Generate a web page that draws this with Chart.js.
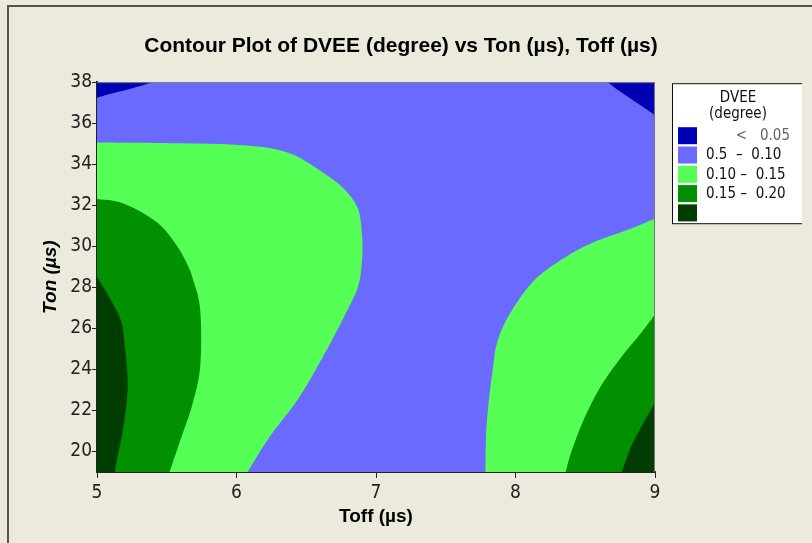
<!DOCTYPE html>
<html lang="en">
<head>
    <meta charset="UTF-8">
    <title>Contour Plot of DVEE</title>
    <script src="https://cdn.jsdelivr.net/npm/chart.js"></script>
    <style>
        html, body { margin: 0; padding: 0; background: #ece9dd; overflow: hidden; }
        #wrap { position: relative; width: 802px; height: 543px; }
        #frame { position: absolute; left: 7px; top: 5px; width: 805px; height: 538px;
                 border-top: 2px solid #555; border-left: 2px solid #555; pointer-events: none; }
    </style>
</head>
<body>
    <div id="wrap"><canvas id="contour" width="802" height="543"></canvas></div>
    <div id="frame"></div>

    <script>
        // axis ranges and ticks
        const toffRange = [5, 9];
        const tonRange = [19, 38];
        const toffTicks = [5, 6, 7, 8, 9];
        const tonTicks = [20, 22, 24, 26, 28, 30, 32, 34, 36, 38];

        // contour levels (legend order)
        const levelLabels = ['<   0.05', '0.5  \u2013  0.10', '0.10 \u2013  0.15', '0.15 \u2013  0.20', ''];
        const levelColors = ['#0000b4', '#6a6aff', '#55ff55', '#009000', '#003d00'];

        // region outlines, [Toff, Ton]
        // the last point of each outline is a plot corner, the rest lie on the contour line
        const wholeArea = [[5, 19], [9, 19], [9, 38], [5, 38]];
        const leftAbove010 = [[5, 35.06], [5.60, 35.02], [6.10, 34.90], [6.39, 34.51], [6.62, 33.59], [6.77, 32.81],
            [6.87, 31.84], [6.90, 30.54], [6.90, 29.32], [6.87, 28.01], [6.77, 26.56], [6.62, 24.62],
            [6.44, 22.54], [6.24, 20.74], [6.08, 19], [5, 19]];
        const leftAbove015 = [[5, 32.31], [5.19, 32.09], [5.43, 31.17], [5.57, 30.05], [5.65, 29.08],
            [5.69, 28.35], [5.74, 26.90], [5.74, 24.14], [5.68, 22.20], [5.60, 20.60], [5.52, 19], [5, 19]];
        const leftAbove020 = [[5, 28.50], [5.07, 27.72], [5.17, 26.41], [5.20, 25.11], [5.22, 23.17],
            [5.19, 21.23], [5.14, 19.5], [5.13, 19], [5, 19]];
        const rightAbove010 = [[9, 31.36], [8.83, 30.87], [8.56, 30.20], [8.38, 29.57], [8.20, 28.74],
            [8.09, 28.01], [7.99, 27.05], [7.91, 26.08], [7.86, 25.11], [7.84, 24.14], [7.81, 22.54],
            [7.79, 20.94], [7.785, 19], [9, 19]];
        const rightAbove015 = [[9, 26.66], [8.90, 25.78], [8.76, 24.62], [8.61, 23.17], [8.49, 21.57],
            [8.40, 19.97], [8.36, 19], [9, 19]];
        const rightAbove020 = [[9, 22.39], [8.92, 21.42], [8.83, 20.26], [8.76, 19], [9, 19]];
        const leftBelow005 = [[5, 37.24], [5.09, 37.42], [5.24, 37.68], [5.40, 38], [5, 38]];
        const rightBelow005 = [[8.66, 38], [8.76, 37.50], [8.88, 36.95], [9, 36.40], [9, 38]];

        // painted bottom to top, with the level each one belongs to
        const regions = [
            [wholeArea, 1],
            [leftAbove010, 2], [rightAbove010, 2],
            [leftAbove015, 3], [rightAbove015, 3],
            [leftAbove020, 4], [rightAbove020, 4],
            [leftBelow005, 0], [rightBelow005, 0]
        ];

        const narrow = '"Liberation Sans Narrow", "DejaVu Sans Condensed", "Liberation Sans", sans-serif';
        const plain = '"Liberation Sans", Arial, sans-serif';

        // smooth curve (Catmull-Rom) through the placed points
        function curveThrough(ctx, pts) {
            for (let i = 0; i < pts.length - 1; i++) {
                const p0 = pts[Math.max(i - 1, 0)], p1 = pts[i], p2 = pts[i + 1], p3 = pts[Math.min(i + 2, pts.length - 1)];
                ctx.bezierCurveTo(p1.x + (p2.x - p0.x) / 6, p1.y + (p2.y - p0.y) / 6,
                                  p2.x - (p3.x - p1.x) / 6, p2.y - (p3.y - p1.y) / 6, p2.x, p2.y);
            }
        }

        // fills every dataset as a closed shape from the points the scales placed
        const regionFill = {
            id: 'regionFill',
            beforeDatasetsDraw(chart) {
                const ctx = chart.ctx;
                const a = chart.chartArea;
                ctx.save();
                ctx.beginPath();
                ctx.rect(a.left, a.top, a.right - a.left, a.bottom - a.top);
                ctx.clip();
                chart.data.datasets.forEach((ds, i) => {
                    const pts = chart.getDatasetMeta(i).data;
                    const n = pts.length - ds.corners;
                    ctx.beginPath();
                    ctx.moveTo(pts[0].x, pts[0].y);
                    if (n > 1) curveThrough(ctx, pts.slice(0, n));
                    pts.slice(Math.max(n, 1)).forEach(p => ctx.lineTo(p.x, p.y));
                    ctx.closePath();
                    ctx.fillStyle = ds.backgroundColor;
                    ctx.fill();
                });
                ctx.restore();
            },
            afterDatasetsDraw(chart) {
                const ctx = chart.ctx;
                const a = chart.chartArea;
                ctx.save();
                ctx.strokeStyle = '#777';
                ctx.lineWidth = 1;
                ctx.beginPath();
                ctx.moveTo(a.left, a.top + 0.5);
                ctx.lineTo(a.right - 0.5, a.top + 0.5);
                ctx.lineTo(a.right - 0.5, a.bottom);
                ctx.stroke();
                ctx.restore();
            }
        };

        // boxed legend at the right of the plot
        const levelLegend = {
            id: 'levelLegend',
            afterDraw(chart) {
                const ctx = chart.ctx;
                const bx = chart.chartArea.right + 17;
                const by = chart.chartArea.top + 1;
                const bw = 132, bh = 140;
                ctx.save();
                ctx.fillStyle = '#fff';
                ctx.fillRect(bx, by, bw, bh);
                ctx.strokeStyle = '#111';
                ctx.lineWidth = 1;
                ctx.strokeRect(bx + 0.5, by + 0.5, bw, bh);
                ctx.fillStyle = '#111';
                ctx.font = '15px ' + narrow;
                ctx.textAlign = 'center';
                ctx.textBaseline = 'middle';
                ctx.fillText('DVEE', bx + 66, by + 15);
                ctx.fillText('(degree)', bx + 66, by + 31);
                levelLabels.forEach((lab, i) => {
                    const y = by + 44 + i * 19.3;
                    ctx.fillStyle = levelColors[i];
                    ctx.fillRect(bx + 6, y, 19, 17);
                    ctx.fillStyle = i === 0 ? '#666' : '#111';
                    if (i === 0) {
                        ctx.textAlign = 'right';
                        ctx.fillText(lab, bx + 118, y + 9);
                    } else {
                        ctx.textAlign = 'left';
                        ctx.fillText(lab, bx + 34, y + 9);
                    }
                });
                ctx.restore();
            }
        };

        const datasets = regions.map(([shape, level]) => ({
            label: levelLabels[level],
            data: shape.map(([x, y]) => ({x: x, y: y})),
            corners: shape === wholeArea ? shape.length : 1,
            backgroundColor: levelColors[level],
            showLine: false,
            pointRadius: 0,
            pointHoverRadius: 0
        }));

        const tickColor = '#222';

        new Chart(document.getElementById('contour'), {
            type: 'scatter',
            data: { datasets: datasets },
            plugins: [regionFill, levelLegend],
            options: {
                responsive: false,
                animation: false,
                events: [],
                layout: { padding: 0 },
                plugins: {
                    legend: { display: false },
                    tooltip: { enabled: false },
                    title: {
                        display: true,
                        text: 'Contour Plot of DVEE (degree) vs Ton (\u00b5s), Toff (\u00b5s)',
                        color: '#000',
                        font: { family: plain, size: 21, weight: 'bold' },
                        padding: { top: 34, bottom: 23 }
                    }
                },
                scales: {
                    x: {
                        type: 'linear',
                        min: toffRange[0],
                        max: toffRange[1],
                        z: 1,
                        afterBuildTicks: s => { s.ticks = toffTicks.map(v => ({value: v})); },
                        afterFit: s => { s.height = 71; },
                        grid: { drawOnChartArea: false, tickLength: 6, color: tickColor, tickWidth: 1 },
                        border: { color: tickColor, width: 2 },
                        ticks: { color: '#222', padding: 4, font: { family: narrow, size: 19 } },
                        title: {
                            display: true, text: 'Toff (\u00b5s)', color: '#000',
                            font: { family: plain, size: 19, weight: 'bold' },
                            padding: { bottom: 15 }
                        }
                    },
                    y: {
                        type: 'linear',
                        min: tonRange[0],
                        max: tonRange[1],
                        z: 1,
                        afterBuildTicks: s => { s.ticks = tonTicks.map(v => ({value: v})); },
                        afterFit: s => { s.width = 97; },
                        grid: { drawOnChartArea: false, tickLength: 5, color: tickColor, tickWidth: 1 },
                        border: { color: tickColor, width: 2 },
                        ticks: { color: '#222', padding: 0, font: { family: narrow, size: 19 } },
                        title: {
                            display: true, text: 'Ton (\u00b5s)', color: '#000',
                            font: { family: plain, size: 19, weight: 'bold', style: 'italic' },
                            padding: { top: 39 }
                        }
                    },
                    side: {
                        type: 'linear',
                        position: 'right',
                        display: true,
                        afterFit: s => { s.width = 147; },
                        grid: { display: false },
                        border: { display: false },
                        ticks: { display: false }
                    }
                }
            }
        });
    </script>
</body>
</html>
